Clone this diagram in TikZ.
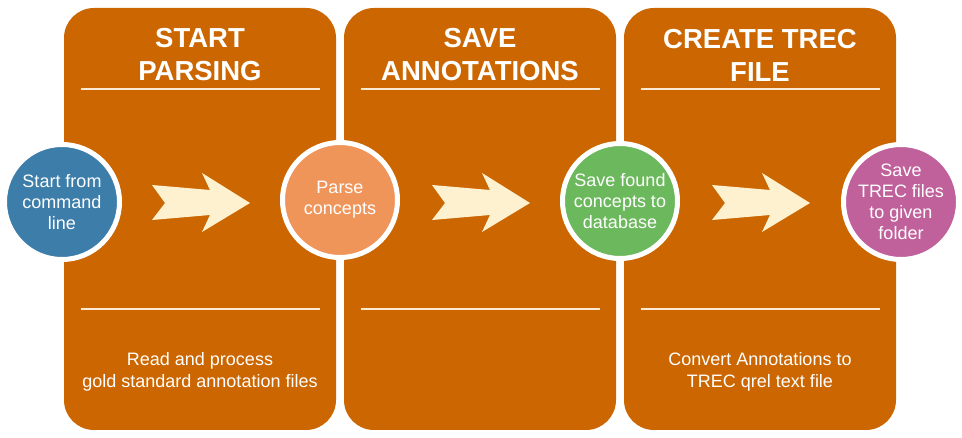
\documentclass[tikz,border=0pt]{standalone}
\usepackage{fontspec}
\setmainfont{Liberation Sans}
\definecolor{panelorange}{HTML}{CC6600}
\definecolor{arrowcream}{HTML}{FEF1CF}
\definecolor{linecream}{HTML}{FCEAD4}
\definecolor{cblue}{HTML}{3C7DAA}
\definecolor{corange}{HTML}{F0955A}
\definecolor{cgreen}{HTML}{6CB85C}
\definecolor{cpink}{HTML}{C0619C}
\tikzset{
  panel/.style={draw=none, fill=panelorange, rounded corners=30pt, rectangle,
    minimum width=272pt, minimum height=422pt, inner sep=0pt},
  titletext/.style={text=white, align=center, inner sep=0pt,
    font=\fontsize{27.5}{33}\selectfont\bfseries},
  bodytext/.style={text=white, align=center, inner sep=0pt,
    font=\fontsize{18}{21.5}\selectfont},
  stepcircle/.style={circle, draw=white, line width=5pt, minimum size=115pt,
    inner sep=0pt, text=white, align=center,
    font=\fontsize{18}{21}\selectfont},
  sepline/.style={draw=linecream, line width=2pt},
  chevron/.style={fill=arrowcream, draw=none}
}
\begin{document}
\begin{tikzpicture}[x=1pt, y=-1pt]
\useasboundingbox (0,0) rectangle (962,438);
\fill[white] (0,0) rectangle (962,438);
% panels
\node[panel] (p1) at (200,219) {};
\node[panel] (p2) at (480,219) {};
\node[panel] (p3) at (760,219) {};
% titles
\node[titletext] (t1) at (200,55) {START\\PARSING};
\node[titletext] (t2) at (480,55) {SAVE\\ANNOTATIONS};
\node[titletext] (t3) at (760,55) {CREATE TREC\\FILE};
% separator lines
\foreach \cx in {200,480,760} {
  \draw[sepline] (\cx-119.5,89.3) -- (\cx+119.5,89.3);
  \draw[sepline] (\cx-119.5,309.3) -- (\cx+119.5,309.3);
}
% bottom texts
\node[bodytext] (b1) at (200,372) {Read and process\\gold standard annotation files};
\node[bodytext] (b3) at (760,372) {Convert Annotations to\\TREC qrel text file};
% chevron arrows
\foreach \dx in {0,280,560} {
  \fill[chevron, shift={(\dx,0)}] (152,185) -- (210,190) -- (202,173) -- (250,203)
    -- (202,232) -- (210,215) -- (152,220) -- (165,203) -- cycle;
}
% circles
\node[stepcircle, fill=cblue] (c1) at (62,202) {Start from\\command\\line};
\node[stepcircle, fill=corange] (c2) at (340,200) {Parse\\concepts};
\node[stepcircle, fill=cgreen] (c3) at (620,201) {Save found\\concepts to\\database};
\node[stepcircle, fill=cpink] (c4) at (901,202) {Save\\TREC files\\to given\\folder};
\end{tikzpicture}
\end{document}
